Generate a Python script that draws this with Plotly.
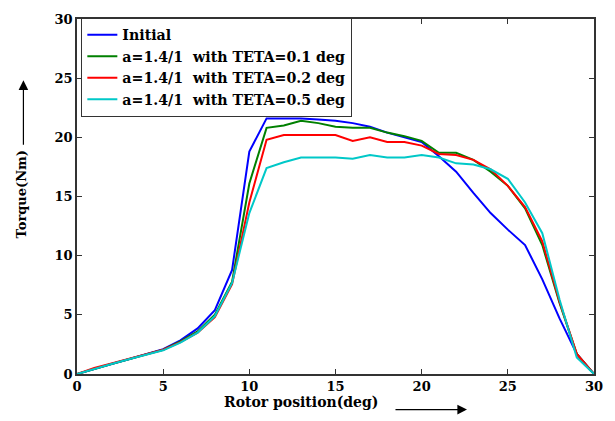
import plotly.graph_objects as go

rotor_pos = list(range(0, 31))

initial = [0, 0.45, 0.85, 1.25, 1.65, 2.1, 2.85, 3.85, 5.4, 8.8, 18.8, 21.6, 21.6, 21.6, 21.5, 21.4,
           21.2, 20.9, 20.4, 20.0, 19.6, 18.4, 17.1, 15.3, 13.6, 12.2, 10.9, 8.0, 4.7, 1.7, 0]
teta_01 = [0, 0.45, 0.85, 1.25, 1.65, 2.05, 2.75, 3.6, 5.0, 7.8, 16.1, 20.8, 21.0, 21.4, 21.2, 20.9,
           20.8, 20.8, 20.4, 20.1, 19.7, 18.7, 18.7, 18.1, 17.1, 15.9, 14.0, 10.9, 6.0, 1.7, 0]
teta_02 = [0, 0.5, 0.9, 1.3, 1.65, 2.05, 2.7, 3.5, 4.8, 7.6, 14.5, 19.8, 20.2, 20.2, 20.2, 20.2,
           19.7, 20.0, 19.6, 19.6, 19.3, 18.6, 18.5, 18.1, 17.3, 15.9, 14.1, 11.2, 6.1, 1.7, 0]
teta_05 = [0, 0.45, 0.85, 1.25, 1.6, 2.0, 2.65, 3.5, 4.9, 7.7, 13.6, 17.4, 17.9, 18.3, 18.3, 18.3,
           18.2, 18.5, 18.3, 18.3, 18.5, 18.3, 17.8, 17.7, 17.3, 16.5, 14.5, 11.9, 6.3, 1.4, 0]

series_names = ["Initial",
                "a=1.4/1  with TETA=0.1 deg",
                "a=1.4/1  with TETA=0.2 deg",
                "a=1.4/1  with TETA=0.5 deg"]
series_values = [initial, teta_01, teta_02, teta_05]
series_colors = ["#0000FF", "#008000", "#FF0000", "#00C8C8"]

x_ticks = [0, 5, 10, 15, 20, 25, 30]
y_ticks = [0, 5, 10, 15, 20, 25, 30]

FONT = "DejaVu Serif"

fig = go.Figure()
for name, vals, col in zip(series_names, series_values, series_colors):
    fig.add_trace(go.Scatter(x=rotor_pos, y=vals, mode="lines", name="<b>" + name + "</b>",
                             line=dict(color=col, width=2)))

axis_common = dict(showgrid=False, zeroline=False, showline=True, linecolor="#333333",
                   linewidth=1.5, mirror="ticks", ticks="inside", ticklen=5,
                   tickcolor="#333333",
                   tickfont=dict(family=FONT, size=13, color="black", weight="bold"))

fig.update_xaxes(range=[0, 30], tickvals=x_ticks, **axis_common)
fig.update_yaxes(range=[0, 30], tickvals=y_ticks, **axis_common)

fig.update_layout(
    width=615, height=421,
    margin=dict(l=77, r=17, t=15, b=47),
    paper_bgcolor="white", plot_bgcolor="white",
    font=dict(family=FONT, color="black"),
    legend=dict(x=0.008, y=1.003, xanchor="left", yanchor="top",
                bordercolor="#333333", borderwidth=1.2, bgcolor="white",
                font=dict(family=FONT, size=14.2, color="black"),
                tracegroupgap=0, itemwidth=30),
    showlegend=True,
)

PW, PH = 521, 359

# x title
fig.add_annotation(x=(303 - 77) / PW, y=-(402 - 374) / PH, xref="paper", yref="paper",
                   text="<b>Rotor position(deg)</b>", showarrow=False, xanchor="center", yanchor="middle",
                   font=dict(family=FONT, size=14, color="black"))
# x arrow
fig.add_annotation(x=(470 - 77) / PW, y=-(410 - 374) / PH, ax=-73, ay=0,
                   xref="paper", yref="paper", axref="pixel", ayref="pixel",
                   text="", showarrow=True, arrowhead=2, arrowsize=1.6, arrowwidth=1.2,
                   arrowcolor="black")
# y title
fig.add_annotation(x=-(77 - 21) / PW, y=(374 - 192) / PH, xref="paper", yref="paper",
                   text="<b>Torque(Nm)</b>", showarrow=False, textangle=-90,
                   xanchor="center", yanchor="middle",
                   font=dict(family=FONT, size=13, color="black"))
# y arrow
fig.add_annotation(x=-(77 - 23) / PW, y=(374 - 77) / PH, ax=0, ay=66,
                   xref="paper", yref="paper", axref="pixel", ayref="pixel",
                   text="", showarrow=True, arrowhead=2, arrowsize=1.6, arrowwidth=1.2,
                   arrowcolor="black")

fig.write_html("out.html", config={"displayModeBar": False},
               post_script="document.body.style.margin='0px';")
